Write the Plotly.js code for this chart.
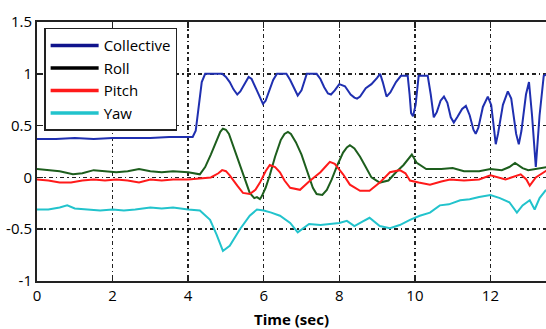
<!DOCTYPE html>
<html>
<head>
<meta charset="utf-8">
<script src="https://cdn.plot.ly/plotly-3.0.1.min.js"></script>
<style>html,body{margin:0;padding:0;background:#fff;}#chart{width:546px;height:329px;}</style>
</head>
<body>
<div id="chart"></div>
<script>
// Series names
const seriesNames = ["Collective", "Roll", "Pitch", "Yaw"];

// Collective
const tCollective = [0,0.5,1,1.5,2,2.5,3,3.5,4,4.12,4.2,4.28,4.36,4.45,4.6,4.9,5.0,5.1,5.2,5.3,5.38,5.5,5.6,5.68,5.8,5.9,5.98,6.05,6.15,6.25,6.35,6.6,6.7,6.8,6.9,7.0,7.1,7.14,7.4,7.5,7.6,7.7,7.78,7.88,8.0,8.15,8.3,8.4,8.47,8.55,8.7,8.85,9.0,9.08,9.15,9.25,9.35,9.5,9.63,9.81,9.86,9.9,9.95,10.02,10.1,10.34,10.42,10.5,10.58,10.68,10.77,10.86,10.95,11.03,11.12,11.25,11.35,11.45,11.55,11.61,11.68,11.8,11.93,12.02,12.1,12.14,12.2,12.33,12.46,12.55,12.68,12.75,12.82,12.94,13.02,13.1,13.2,13.3,13.41,13.5];
const yCollective = [0.37,0.37,0.38,0.37,0.38,0.38,0.38,0.39,0.39,0.39,0.45,0.7,0.92,1.0,1.0,1.0,0.97,0.92,0.85,0.80,0.83,0.9,0.97,0.95,0.85,0.76,0.71,0.74,0.84,0.94,1.0,1.0,0.94,0.86,0.79,0.84,0.96,1.0,1.0,0.95,0.87,0.81,0.80,0.84,0.90,0.88,0.80,0.77,0.76,0.78,0.86,0.9,0.96,1.0,0.92,0.78,0.82,0.92,0.98,0.98,0.8,0.62,0.59,0.7,0.98,0.98,0.8,0.58,0.63,0.74,0.78,0.72,0.58,0.53,0.58,0.66,0.69,0.6,0.46,0.42,0.48,0.68,0.78,0.7,0.45,0.32,0.42,0.7,0.83,0.76,0.42,0.32,0.45,0.8,0.92,0.6,0.10,0.6,0.98,1.0];

// Roll
const tRoll = [0,0.3,0.6,0.95,1.2,1.5,1.8,2.1,2.4,2.7,3.0,3.3,3.6,4.0,4.31,4.45,4.6,4.75,4.85,4.92,5.0,5.08,5.2,5.35,5.5,5.63,5.75,5.82,5.9,5.95,6.05,6.16,6.3,6.45,6.55,6.64,6.72,6.85,7.0,7.17,7.3,7.4,7.55,7.67,7.8,7.95,8.1,8.2,8.28,8.4,8.55,8.7,8.85,9.07,9.3,9.5,9.7,9.92,10.05,10.3,10.7,11.0,11.3,11.7,12.0,12.3,12.5,12.65,12.85,13.0,13.2,13.5];
const yRoll = [0.08,0.07,0.06,0.03,0.04,0.07,0.06,0.05,0.06,0.08,0.06,0.05,0.06,0.05,0.03,0.1,0.22,0.36,0.44,0.47,0.46,0.42,0.3,0.15,-0.02,-0.15,-0.2,-0.19,-0.21,-0.18,-0.1,0.02,0.2,0.36,0.42,0.44,0.42,0.34,0.22,0.04,-0.1,-0.16,-0.17,-0.12,-0.02,0.12,0.24,0.29,0.31,0.28,0.2,0.1,0.0,-0.05,-0.03,0.05,0.12,0.22,0.14,0.08,0.08,0.09,0.06,0.06,0.08,0.07,0.1,0.14,0.09,0.07,0.08,0.1];

// Pitch
const tPitch = [0,0.3,0.6,0.9,1.2,1.5,1.8,2.1,2.4,2.7,3.0,3.3,3.6,4.0,4.3,4.6,4.8,4.9,5.0,5.1,5.3,5.45,5.63,5.78,5.9,6.05,6.16,6.3,6.43,6.55,6.7,6.96,7.2,7.5,7.65,7.75,7.88,8.1,8.28,8.55,8.8,9.07,9.34,9.6,9.75,9.87,10.1,10.4,10.7,10.93,11.3,11.7,12.0,12.4,12.8,12.95,13.04,13.2,13.5];
const yPitch = [-0.02,-0.03,-0.05,-0.05,-0.03,-0.02,-0.03,-0.02,-0.03,-0.05,-0.02,-0.03,-0.02,-0.02,-0.01,0.0,0.04,0.07,0.06,0.02,-0.08,-0.15,-0.16,-0.12,-0.05,0.06,0.12,0.1,0.05,-0.03,-0.1,-0.12,-0.04,0.05,0.11,0.15,0.13,0.03,-0.07,-0.13,-0.13,-0.05,0.05,0.07,0.04,-0.03,-0.05,-0.07,-0.04,-0.02,-0.03,-0.02,0.02,-0.02,0.03,-0.02,-0.08,0.0,0.07];

// Yaw
const tYaw = [0,0.3,0.6,0.8,1.0,1.3,1.67,2.0,2.3,2.6,3.0,3.3,3.6,4.0,4.31,4.58,4.75,4.92,5.1,5.37,5.63,5.82,6.0,6.2,6.43,6.7,6.9,7.2,7.5,7.75,8.0,8.2,8.4,8.6,8.8,9.07,9.34,9.6,9.87,10.13,10.4,10.66,10.9,11.2,11.45,11.7,12.0,12.25,12.5,12.7,12.85,13.04,13.17,13.3,13.47];
const yYaw = [-0.31,-0.31,-0.29,-0.27,-0.3,-0.31,-0.32,-0.31,-0.32,-0.31,-0.29,-0.3,-0.29,-0.31,-0.32,-0.41,-0.55,-0.71,-0.66,-0.5,-0.37,-0.31,-0.32,-0.34,-0.37,-0.44,-0.53,-0.45,-0.46,-0.45,-0.44,-0.42,-0.47,-0.43,-0.39,-0.47,-0.49,-0.46,-0.41,-0.37,-0.34,-0.27,-0.26,-0.22,-0.21,-0.19,-0.17,-0.2,-0.24,-0.34,-0.27,-0.22,-0.31,-0.2,-0.12];

// Axis ticks
const xTicks = [0,2,4,6,8,10,12];
const yTicks = [-1,-0.5,0,0.5,1,1.5];
const yTickLabels = ["-1","-0.5","0","0.5","1","1.5"];

const plotColors = ["#1f2fb0", "#1d5e1d", "#ff1a1a", "#22c3cc"];
const legendColors = ["#10148c", "#000000", "#ff1a1a", "#22c3cc"];
const xs = [tCollective, tRoll, tPitch, tYaw];
const ys = [yCollective, yRoll, yPitch, yYaw];

const traces = [];
for (let i = 0; i < 4; i++) {
  traces.push({
    x: xs[i], y: ys[i], type: "scatter", mode: "lines",
    line: {color: plotColors[i], width: 2},
    showlegend: false, legendgroup: seriesNames[i], hoverinfo: "skip"
  });
}
for (let i = 0; i < 4; i++) {
  traces.push({
    x: [null], y: [null], type: "scatter", mode: "lines",
    name: seriesNames[i], legendgroup: seriesNames[i],
    line: {color: legendColors[i], width: 3.5}
  });
}

const gridDash = "4px,3px,1.5px,3px";

const layout = {
  width: 546, height: 329,
  margin: {l: 37, r: 0, t: 22, b: 48},
  paper_bgcolor: "#fff", plot_bgcolor: "#fff",
  font: {family: "Open Sans, sans-serif", size: 15, color: "#000"},
  showlegend: true,
  legend: {
    x: 0.014, y: 0.978, xanchor: "left", yanchor: "top",
    bgcolor: "#fff", bordercolor: "#222", borderwidth: 1.5,
    font: {family: "Open Sans, sans-serif", size: 15, color: "#000"},
    tracegroupgap: 0, itemwidth: 48
  },
  xaxis: {
    range: [0, 13.47], tickvals: xTicks, ticktext: xTicks.map(String),
    showline: true, linecolor: "#222", linewidth: 2, mirror: "ticks",
    ticks: "inside", ticklen: 6, tickwidth: 1.5, tickcolor: "#222",
    showgrid: true, gridcolor: "#222", gridwidth: 1.5, griddash: gridDash,
    zeroline: false,
    title: {text: "<b>Time (sec)</b>", font: {size: 15}, standoff: 10}
  },
  yaxis: {
    range: [-1, 1.5], tickvals: yTicks, ticktext: yTickLabels,
    showline: true, linecolor: "#222", linewidth: 2,
    ticks: "inside", ticklen: 6, tickwidth: 1.5, tickcolor: "#222",
    showgrid: true, gridcolor: "#222", gridwidth: 1.5, griddash: gridDash,
    zeroline: false
  }
};

Plotly.newPlot("chart", traces, layout, {staticPlot: true, displayModeBar: false});
</script>
</body>
</html>
